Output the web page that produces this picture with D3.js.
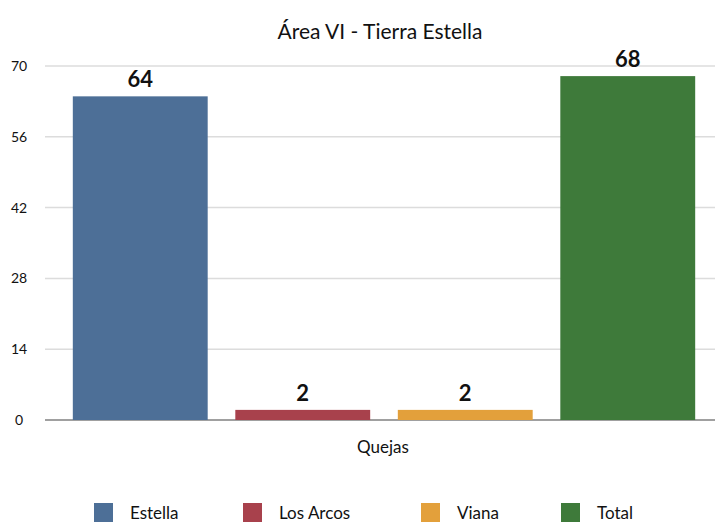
<!DOCTYPE html>
<html>
<head>
<meta charset="utf-8">
<script src="https://cdn.jsdelivr.net/npm/d3@7"></script>
<style>
  body { margin: 0; background: #fff; }
  svg { font-family: Lato, "Open Sans", sans-serif; }
</style>
</head>
<body>
<div id="chart"></div>
<script>
// data
const categories = ["Estella", "Los Arcos", "Viana", "Total"];
const values = [64, 2, 2, 68];
const colors = ["#4d6f97", "#a8414c", "#e3a03b", "#3e7a3a"];
const yTicks = [0, 14, 28, 42, 56, 70];
const legendX = [94, 243, 421, 561];

const width = 715, height = 525;

const svg = d3.select("#chart").append("svg")
    .attr("width", width)
    .attr("height", height);

const xScale = d3.scaleBand()
    .domain(categories)
    .range([59, 709])
    .paddingInner(0.17)
    .paddingOuter(0.085);

const yScale = d3.scaleLinear()
    .domain([0, 70])
    .range([420, 66]);

// title
svg.append("text")
    .attr("x", 380).attr("y", 39)
    .attr("text-anchor", "middle")
    .attr("font-size", 21)
    .attr("fill", "#111")
    .text("Área VI - Tierra Estella");

// gridlines + tick labels
const axisG = svg.append("g").attr("class", "yAxisG");
axisG.selectAll("line")
    .data(yTicks)
    .join("line")
    .attr("x1", 45).attr("x2", width)
    .attr("y1", d => yScale(d)).attr("y2", d => yScale(d))
    .attr("stroke", d => d === 0 ? "#a0a0a0" : "#dcdcdc")
    .attr("stroke-width", d => d === 0 ? 2 : 1.5);
axisG.selectAll("text")
    .data(yTicks)
    .join("text")
    .attr("x", 19)
    .attr("y", d => yScale(d) + 5)
    .attr("text-anchor", "middle")
    .attr("font-size", 14)
    .attr("fill", "#111")
    .text(d => d);

// bars
svg.selectAll(".bar")
    .data(categories)
    .join("rect")
    .attr("class", "bar")
    .attr("x", d => xScale(d))
    .attr("width", xScale.bandwidth())
    .attr("y", (d, i) => yScale(values[i]))
    .attr("height", (d, i) => yScale(0) - yScale(values[i]))
    .attr("fill", (d, i) => colors[i]);

// value labels
svg.selectAll(".valLabel")
    .data(categories)
    .join("text")
    .attr("class", "valLabel")
    .attr("x", d => xScale(d) + xScale.bandwidth() / 2)
    .attr("y", (d, i) => yScale(values[i]) - 9)
    .attr("text-anchor", "middle")
    .attr("font-size", 22)
    .attr("font-weight", "bold")
    .attr("fill", "#111")
    .text((d, i) => values[i]);

// x axis title
svg.append("text")
    .attr("x", 383).attr("y", 453)
    .attr("text-anchor", "middle")
    .attr("font-size", 17)
    .attr("fill", "#111")
    .text("Quejas");

// legend
const legendG = svg.selectAll(".legendItem")
    .data(categories)
    .join("g")
    .attr("class", "legendItem")
    .attr("transform", (d, i) => "translate(" + legendX[i] + ",503)");
legendG.append("rect")
    .attr("width", 19).attr("height", 19)
    .attr("fill", (d, i) => colors[i]);
legendG.append("text")
    .attr("x", 36)
    .attr("y", 16)
    .attr("font-size", 17)
    .attr("fill", "#111")
    .text(d => d);
</script>
</body>
</html>
